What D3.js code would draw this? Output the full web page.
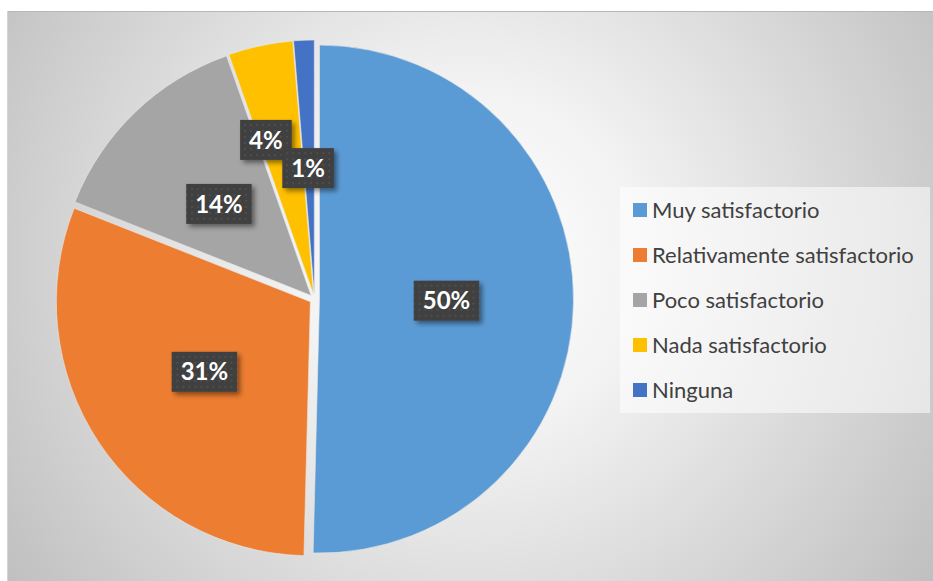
<!DOCTYPE html>
<html><head><meta charset="utf-8">
<script src="https://cdn.jsdelivr.net/npm/d3@7"></script>
<style>html,body{margin:0;padding:0;background:#fff;}svg{display:block;}</style>
</head><body>
<script>
const categories = ["Muy satisfactorio","Relativamente satisfactorio","Poco satisfactorio","Nada satisfactorio","Ninguna"];
const values = [50.4, 30.6, 13.6, 4.1, 1.3];
const colors = ["#5B9BD5","#ED7D31","#A5A5A5","#FFC000","#4472C4"];
const labelNudge = [[0,0],[0,0],[-4,0],[-21,-30],[-1,1]];

const W = 933, H = 581;
const svg = d3.select("body").append("svg").attr("width", W).attr("height", H);
const defs = svg.append("defs");

const grad = defs.append("radialGradient").attr("id","bg")
  .attr("gradientUnits","userSpaceOnUse").attr("cx",470).attr("cy",260).attr("r",560);
grad.append("stop").attr("offset","0").attr("stop-color","#ffffff");
grad.append("stop").attr("offset","0.3").attr("stop-color","#f3f3f3");
grad.append("stop").attr("offset","1").attr("stop-color","#c0c0c0");

const pat = defs.append("pattern").attr("id","dots").attr("patternUnits","userSpaceOnUse")
  .attr("width",6).attr("height",6);
pat.append("rect").attr("width",6).attr("height",6).attr("fill","#404040");
pat.append("rect").attr("x",2).attr("y",2).attr("width",2).attr("height",2).attr("fill","#4e4e4e");

const sh = defs.append("filter").attr("id","shadow").attr("x","-30%").attr("y","-30%").attr("width","170%").attr("height","170%");
sh.append("feDropShadow").attr("dx",3).attr("dy",3).attr("stdDeviation",2.5)
  .attr("flood-color","#000").attr("flood-opacity",0.45);

// chart area
svg.append("rect").attr("x",7).attr("y",11).attr("width",W-7).attr("height",H-11)
  .attr("fill","url(#bg)");
svg.append("line").attr("x1",7).attr("x2",W).attr("y1",11.5).attr("y2",11.5).attr("stroke","#b8b8b8");
svg.append("line").attr("x1",7.5).attr("x2",7.5).attr("y1",11).attr("y2",H).attr("stroke","#d4d4d4");

const cx = 314.5, cy = 299, R = 254, explode = 5;
const pie = d3.pie().sort(null).value(d => d);
const arcs = pie(values);
const arc = d3.arc().innerRadius(0).outerRadius(R);
const total = d3.sum(values);

const g = svg.append("g").attr("transform",`translate(${cx},${cy})`);
g.selectAll("path").data(arcs).join("path")
  .attr("d", arc)
  .attr("fill", (d,i) => colors[i])
  .attr("stroke","#e8e8e8").attr("stroke-width",0.6)
  .attr("transform", d => {
    const a = (d.startAngle + d.endAngle)/2;
    return `translate(${Math.sin(a)*explode},${-Math.cos(a)*explode})`;
  });

// labels
const lab = g.selectAll("g.lab").data(arcs).join("g").attr("class","lab")
  .attr("transform", (d,i) => {
    const a = (d.startAngle + d.endAngle)/2;
    const rr = R*0.5 + explode;
    return `translate(${Math.sin(a)*rr + labelNudge[i][0]},${-Math.cos(a)*rr + labelNudge[i][1]})`;
  });
lab.each(function(d,i){
  const s = d3.select(this);
  const rect = s.append("rect").attr("fill","url(#dots)").attr("filter","url(#shadow)");
  const t = s.append("text").text(Math.round(d.value/total*100)+"%")
    .attr("text-anchor","middle").attr("dy","0.36em")
    .attr("font-family","Lato, 'Open Sans', sans-serif").attr("font-weight","bold")
    .attr("font-size",24).attr("fill","#ffffff");
  const w = t.node().getComputedTextLength() + 18;
  rect.attr("x",-w/2).attr("y",-20).attr("width",w).attr("height",40);
});

// legend
const lg = svg.append("g");
lg.append("rect").attr("x",620).attr("y",187).attr("width",310).attr("height",226)
  .attr("fill","#ffffff").attr("fill-opacity",0.55);
const items = lg.selectAll("g.item").data(categories).join("g").attr("class","item")
  .attr("transform",(d,i)=>`translate(633,${210 + i*45})`);
items.append("rect").attr("x",0).attr("y",-7).attr("width",14).attr("height",14)
  .attr("fill",(d,i)=>colors[i]);
items.append("text").attr("x",19).attr("dy","0.35em").text(d=>d)
  .attr("font-family","Lato, 'Open Sans', sans-serif").attr("font-size",22).attr("fill","#404040");
</script>
</body></html>
